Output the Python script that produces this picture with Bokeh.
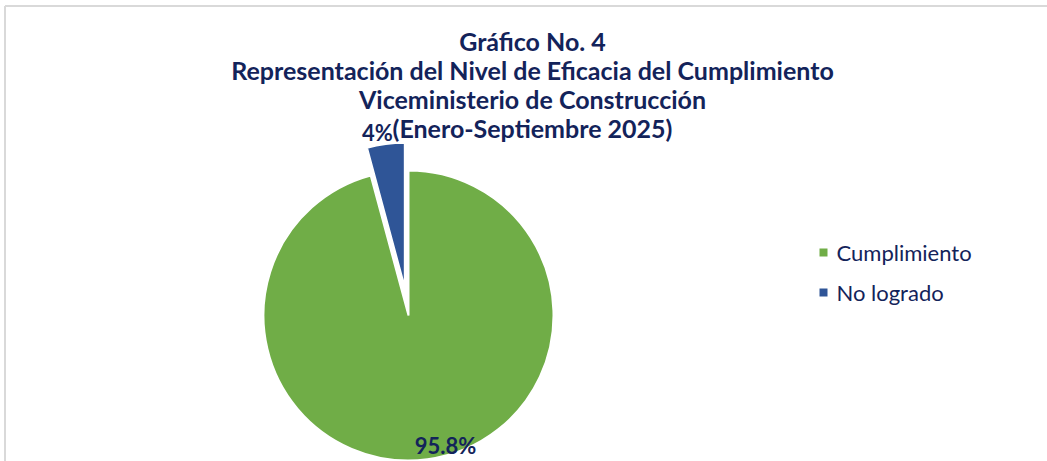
import math
from bokeh.plotting import figure
from bokeh.models import Range1d
from bokeh.core.properties import value
from bokeh.embed import file_html
from bokeh.resources import INLINE

# ---- data ----
categories = ["Cumplimiento", "No logrado"]
values = [95.8, 4.2]
slice_labels = ["95.8%", "4%"]
colors = ["#70AD47", "#2F5597"]
title_lines = [
    "Gráfico No. 4",
    "Representación del Nivel de Eficacia del Cumplimiento",
    "Viceministerio de Construcción",
    "(Enero-Septiembre 2025)",
]

W, H = 1047, 461
NAVY = "#13235A"

p = figure(width=W, height=H, output_backend="svg", toolbar_location=None,
           x_range=Range1d(0, W), y_range=Range1d(0, H),
           min_border=0, outline_line_color=None)
p.axis.visible = False
p.grid.visible = False
p.background_fill_color = "white"
p.border_fill_color = "white"

OFF = 0

def sx(X):  # screen px -> data x
    return X - OFF

def sy(Y):  # screen px -> data y
    return H - (Y - OFF)

# frame lines (top, left)
p.segment(x0=[sx(4.5), sx(4.5)], y0=[sy(5.5), sy(5.5)], x1=[sx(1047), sx(4.5)], y1=[sy(5.5), sy(470)],
          line_color="#D9D9D9", line_width=2)

# ---- pie ----
cx, cy, r = sx(408), sy(315), 145
total = sum(values)
explode = [0, 28]
# Excel-style: start at 12 o'clock, clockwise
start = math.pi / 2
for i, v in enumerate(values):
    sweep = v / total * 2 * math.pi
    a_end = start
    a_start = start - sweep
    mid = (a_start + a_end) / 2
    ox = explode[i] * math.cos(mid)
    oy = explode[i] * math.sin(mid)
    p.wedge(x=[cx + ox], y=[cy + oy], radius=r, start_angle=a_start, end_angle=a_end,
            fill_color=colors[i], line_color="white", line_width=2)
    start = a_start

# slice labels
p.text(x=[sx(445), sx(377)], y=[sy(445), sy(132)], text=slice_labels,
       text_font=value("Lato"), text_font_style="bold", text_font_size="22px",
       text_color=NAVY, text_align="center", text_baseline="middle")

# ---- title ----
title_y = [40, 69, 98, 127]
p.text(x=[sx(532)] * 4, y=[sy(t) for t in title_y], text=title_lines,
       text_font=value("Lato"), text_font_style="bold", text_font_size="25px",
       text_color=NAVY, text_align="center", text_baseline="middle")

# ---- legend ----
leg_y = [252, 292]
p.scatter(x=[sx(823)] * 2, y=[sy(v) for v in leg_y], marker="square", size=8,
          fill_color=colors, line_color=None)
p.text(x=[sx(836)] * 2, y=[sy(v) for v in leg_y], text=categories,
       text_font=value("Lato"), text_font_size="22px",
       text_color=NAVY, text_align="left", text_baseline="middle")

open("out.html", "w").write(file_html(p, INLINE))
